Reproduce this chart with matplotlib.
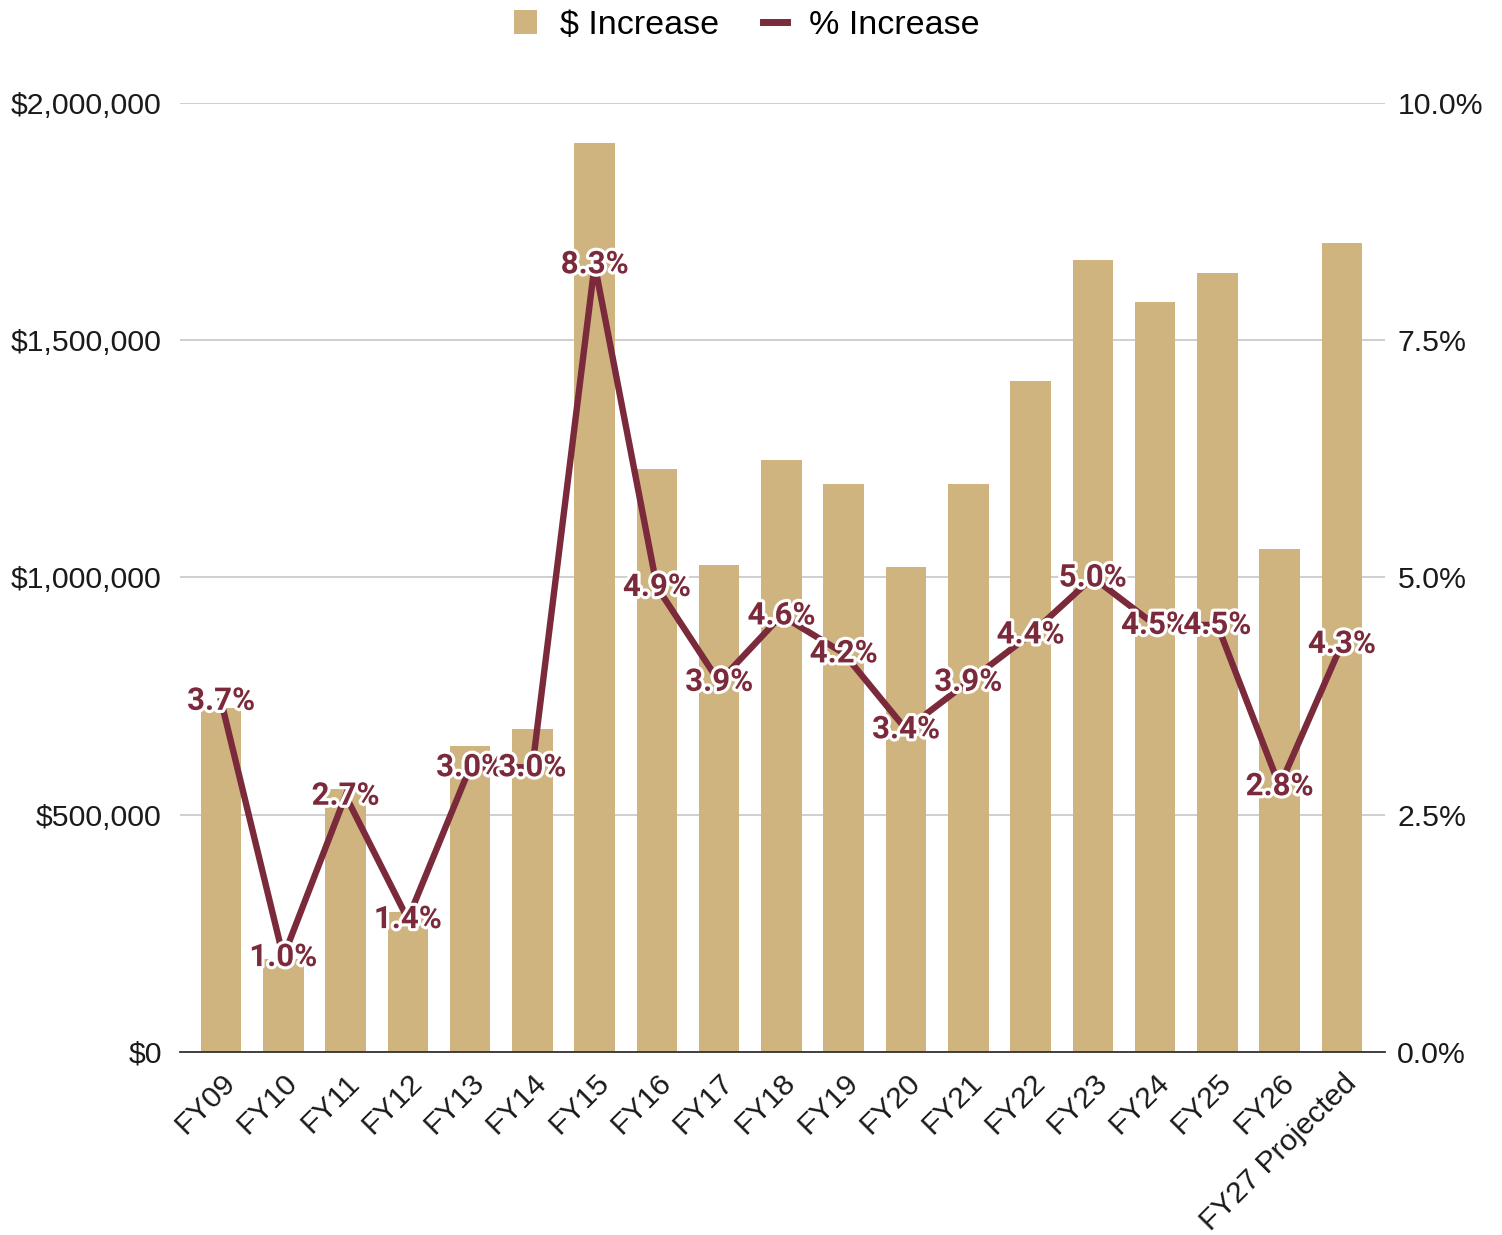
import matplotlib
matplotlib.use("Agg")
import matplotlib.pyplot as plt
import matplotlib.patheffects as pe
from matplotlib.ticker import FuncFormatter, MultipleLocator
from matplotlib.lines import Line2D
from matplotlib.patches import Patch

categories = ["FY09", "FY10", "FY11", "FY12", "FY13", "FY14", "FY15", "FY16", "FY17",
              "FY18", "FY19", "FY20", "FY21", "FY22", "FY23", "FY24", "FY25", "FY26",
              "FY27 Projected"]
dollar_increase = [725000, 195000, 555000, 295000, 645000, 681000, 1916000, 1229000, 1026000,
                   1248000, 1197000, 1022000, 1197000, 1414000, 1669000, 1581000, 1642000,
                   1060000, 1705000]
pct_increase = [3.7, 1.0, 2.7, 1.4, 3.0, 3.0, 8.3, 4.9, 3.9, 4.6, 4.2, 3.4, 3.9, 4.4, 5.0,
                4.5, 4.5, 2.8, 4.3]

BAR = "#CFB480"
LINE = "#7A2A3B"
AXF = "Liberation Sans"
TXT = "#1a1a1a"

fig = plt.figure(figsize=(15.02, 12.35), dpi=100)
ax = fig.add_axes([0.1198, 0.1482, 0.8022, 0.7684])
ax2 = ax.twinx()

x = list(range(len(categories)))
ax.bar(x, dollar_increase, width=0.65, color=BAR, zorder=2)
ax.set_ylim(0, 2000000)
ax.set_xlim(-0.66, len(categories) - 1 + 0.69)
ax.yaxis.set_major_locator(MultipleLocator(500000))
ax.yaxis.set_major_formatter(FuncFormatter(lambda v, p: f"${v:,.0f}"))
ax.grid(axis="y", color="#CCCCCC", linewidth=1.3, zorder=0)
ax.set_axisbelow(True)
for s in ["top", "right", "left"]:
    ax.spines[s].set_visible(False)
ax.spines["bottom"].set_color("#333333")
ax.spines["bottom"].set_linewidth(1.3)
ax.spines["bottom"].set_zorder(3)
ax.tick_params(axis="y", length=0, pad=13, labelsize=21.8, labelcolor=TXT)
ax.tick_params(axis="x", length=0, pad=12)
ax.set_xticks(x)
ax.set_xticklabels(categories, rotation=45, ha="right", rotation_mode="anchor",
                   fontsize=21.8, fontfamily=AXF, color=TXT)
for lab in ax.get_yticklabels():
    lab.set_fontfamily(AXF)

ax2.plot(x, pct_increase, color=LINE, linewidth=4.6, zorder=3, solid_joinstyle="miter")
ax2.set_ylim(0, 10)
ax2.yaxis.set_major_locator(MultipleLocator(2.5))
ax2.yaxis.set_major_formatter(FuncFormatter(lambda v, p: f"{v:.1f}%"))
for s in ["top", "right", "left", "bottom"]:
    ax2.spines[s].set_visible(False)
ax2.tick_params(axis="y", length=0, pad=9, labelsize=21.8, labelcolor=TXT)
for lab in ax2.get_yticklabels():
    lab.set_fontfamily(AXF)

for xi, p in zip(x, pct_increase):
    ax2.text(xi, p, f"{p:.1f}%", ha="center", va="center", fontsize=22.5,
             fontweight="bold", fontfamily="Roboto", color=LINE, zorder=5,
             path_effects=[pe.withStroke(linewidth=4.5, foreground="white")])

handles = [Patch(facecolor=BAR, edgecolor="none"),
           Line2D([0], [0], color=LINE, linewidth=5)]
fig.legend(handles, ["$ Increase", "% Increase"], loc="upper center",
           bbox_to_anchor=(0.497, 1.017), ncol=2, frameon=False,
           prop={"family": AXF, "size": 24.5}, handlelength=0.7, handleheight=0.7,
           columnspacing=1.3, handletextpad=0.65)

fig.savefig("out.png", dpi=100, facecolor="white")
